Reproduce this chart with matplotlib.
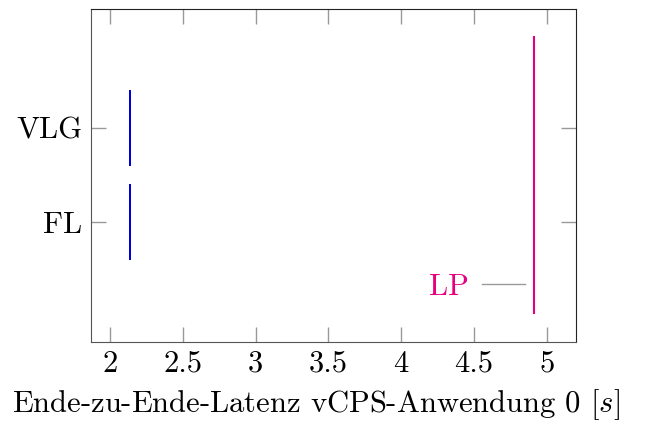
import matplotlib
matplotlib.use("Agg")
import matplotlib.pyplot as plt
from matplotlib.lines import Line2D

categories = ["FL", "VLG"]
latency_fl = [2.137, 2.137, 2.137]
latency_vlg = [2.137, 2.137, 2.137]
lp_value = 4.915
xticks = [2, 2.5, 3, 3.5, 4, 4.5, 5]

plt.rcParams["font.family"] = "serif"
plt.rcParams["font.serif"] = ["cmr10"]
plt.rcParams["mathtext.fontset"] = "cm"
plt.rcParams["axes.formatter.use_mathtext"] = True
plt.rcParams["font.size"] = 22

fig = plt.figure(figsize=(6.45, 4.3), dpi=100)
ax = fig.add_axes([0.141, 0.205, 0.752, 0.775])

blue = "#0000dd"
ax.boxplot([latency_fl, latency_vlg], positions=[1, 2], vert=False, widths=0.79,
           showfliers=False,
           boxprops=dict(color=blue, linewidth=1.2),
           whiskerprops=dict(color=blue, linewidth=1.2),
           capprops=dict(color=blue, linewidth=1.2),
           medianprops=dict(color=blue, linewidth=1.2))

magenta = "#e6007e"
ax.vlines(lp_value, 0.02, 2.98, color=magenta, linewidth=1.5)

handle = Line2D([], [], color="#999999", linewidth=1)
leg = ax.legend([handle], ["LP"], loc="center right", bbox_to_anchor=(0.895, 0.165),
                frameon=False, markerfirst=False, handlelength=1.4,
                handletextpad=0.45, borderpad=0, borderaxespad=0)
for t in leg.get_texts():
    t.set_color(magenta)

ax.set_xlim(1.87, 5.2)
ax.set_ylim(-0.277, 3.27)
ax.set_xticks(xticks)
ax.set_xticklabels([f"{v:g}" for v in xticks])
ax.set_yticks([1, 2])
ax.set_yticklabels(categories)
ax.tick_params(direction="in", length=11, color="#999999", top=True, right=True,
               width=1, pad=6)
for side in ["left", "bottom"]:
    ax.spines[side].set_color("#555555")
for side in ["top", "right"]:
    ax.spines[side].set_color("#222222")
ax.set_xlabel("Ende-zu-Ende-Latenz vCPS-Anwendung 0 [$s$]")
ax.xaxis.set_label_coords(0.464, -0.135)

fig.savefig("out.png", dpi=100)
